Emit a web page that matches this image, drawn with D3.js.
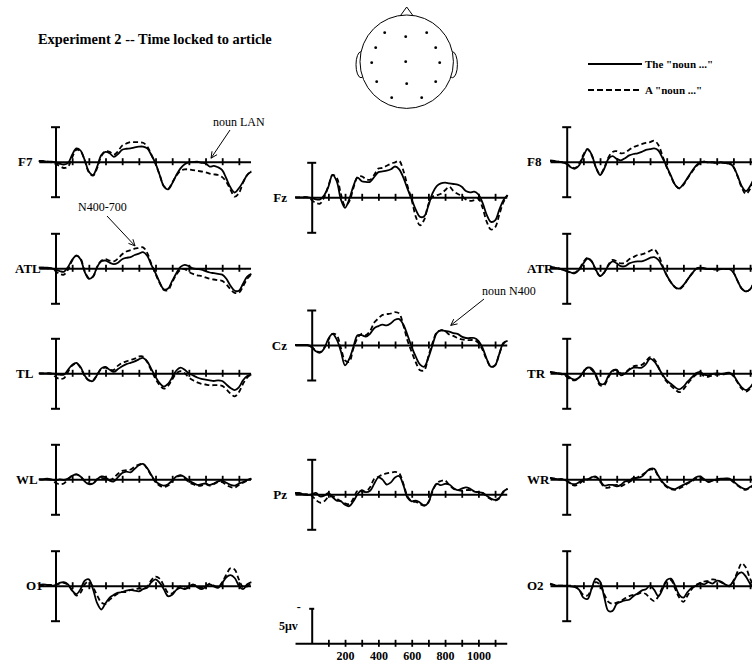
<!DOCTYPE html>
<html><head><meta charset="utf-8">
<script src="https://cdn.jsdelivr.net/npm/d3@7"></script>
<style>
body{margin:0;background:#fff}
svg{display:block}
text{font-family:"Liberation Serif","Times New Roman",serif;fill:#000}
</style>
</head><body>
<svg id="c" width="752" height="667"></svg>
<script>
// ---- time base (ms) ----
const times = [-100,-75,-50,-25,0,25,50,75,100,125,150,175,200,225,250,275,300,325,350,375,400,425,450,475,500,525,550,575,600,625,650,675,700,725,750,775,800,825,850,875,900,925,950,975,1000,1025,1050,1075,1100,1125,1150,1175];
const conditions = ['The "noun ..."', 'A "noun ..."'];
const tickTimes = [100,200,300,400,500,600,700,800,900,1000,1100];
const scaleTickLabels = [200,400,600,800,1000];
const scaleMicroV = 5;

// ---- ERP amplitudes (microvolts, negative plotted up) ----
const F7_the = [-0.1,-0.1,0,0,0.1,0.3,0.4,0.2,-1.0,-1.9,-1.6,-0.25,1.4,1.9,0.7,-0.95,-1.4,-1.2,-0.7,-1.1,-1.7,-1.85,-1.9,-2.05,-2.15,-2.15,-1.9,-0.95,0.25,1.9,3.5,3.95,3.1,1.9,0.95,0.35,0.1,0.05,0,0.15,0.25,0.7,0.6,0.8,1.2,2.4,3.7,4.4,3.8,2.9,1.9,1.4];
const F7_a   = [-0.1,0,0,0.1,0.3,0.6,0.9,0.7,-0.6,-1.7,-1.5,-0.2,1.5,2.0,0.9,-0.8,-1.5,-1.4,-1.0,-1.5,-2.3,-2.6,-2.8,-2.8,-2.8,-2.7,-2.2,-1.0,0.3,1.9,3.5,3.9,3.0,2.0,1.3,1.1,1.1,1.2,1.3,1.4,1.5,1.7,1.8,1.9,2.2,2.9,4.0,5.0,4.5,3.0,1.9,1.3];
const ATL_the = [-0.1,-0.1,-0.1,0,0.2,0.4,0.5,-0.2,-1.2,-1.8,-1.3,0.5,1.5,1.2,-0.2,-1.0,-1.1,-0.8,-0.6,-0.8,-1.3,-1.5,-1.6,-1.9,-2.1,-2.3,-1.8,-0.5,0.7,2.0,3.0,2.9,1.8,0.7,-0.2,-0.5,-0.3,0,0.1,0.2,0.4,0.6,0.7,0.8,0.9,1.5,2.5,3.2,3.2,2.2,1.2,0.8];
const ATL_a   = [-0.1,-0.1,0,0,0.4,0.8,0.9,0.2,-1.1,-1.8,-1.4,0.4,1.4,1.2,-0.2,-1.1,-1.3,-1.1,-1.0,-1.4,-2.0,-2.4,-2.6,-2.8,-2.9,-3.0,-2.2,-0.6,0.8,2.1,3.1,3.1,2.0,0.9,0.2,0.1,0.5,0.8,1.0,1.1,1.3,1.5,1.6,1.7,1.8,2.3,3.0,3.5,3.5,2.6,1.5,0.9];
const TL_the = [0,0,0,0,0.1,0.2,0.2,-0.5,-1.2,-1.5,-0.9,0.3,1.0,1.1,0.2,-0.7,-0.9,-0.5,-0.2,-0.6,-1.0,-1.3,-1.5,-1.7,-2.0,-2.2,-1.7,-0.6,0.5,1.4,1.9,1.5,0.6,-0.4,-0.8,-0.5,0,0.3,0.6,0.8,0.9,1.0,1.1,1.0,1.1,1.6,2.1,2.4,2.0,1.0,0.4,0.2];
const TL_a   = [0,0,0,0.1,0.5,0.8,0.7,-0.2,-1.1,-1.4,-0.8,0.4,1.0,1.0,0.2,-0.6,-0.8,-0.5,-0.5,-1.1,-1.5,-1.7,-1.9,-2.1,-2.4,-2.4,-1.6,-0.4,0.8,1.7,2.2,1.8,0.9,0,-0.3,0,0.6,1.0,1.3,1.5,1.6,1.7,1.7,1.7,1.8,2.3,2.9,3.3,2.7,1.5,0.6,0.2];
const WL_the = [0,0,-0.1,0,0.2,0,0.1,-0.1,-0.5,-0.7,-0.4,0.3,0.7,0.6,0,-0.4,-0.3,0.2,0.3,-0.3,-0.9,-1.1,-1.0,-1.5,-2.0,-2.2,-1.6,-0.6,0.3,0.7,0.9,0.7,0.2,-0.4,-0.6,-0.3,0.2,0.5,0.8,0.7,0.6,0.8,0.6,0.3,0.2,0.5,0.8,0.9,0.6,0.4,0.1,-0.1];
const WL_a   = [0,0,0,0.1,0.5,0.7,0.6,0,-0.5,-0.7,-0.4,0.2,0.6,0.6,0,-0.2,-0.1,0.1,-0.2,-0.8,-1.2,-1.3,-1.4,-1.8,-2.1,-2.2,-1.5,-0.5,0.4,0.9,1.1,0.9,0.3,-0.3,-0.5,-0.1,0.4,0.7,0.9,0.9,0.7,0.9,0.7,0.4,0.4,0.8,1.1,1.2,0.8,0.5,0.2,-0.1];
const O1_the = [-0.1,-0.2,-0.1,0,-0.1,-0.4,-0.5,-0.2,0.7,1.2,0.5,-0.7,-0.9,0.5,2.5,3.4,2.5,1.7,1.3,1.0,0.9,0.7,0.6,0.7,0.8,0.5,0.3,-0.5,-0.9,-0.4,0.5,1.5,1.3,0.6,0.3,0.5,0.1,-0.2,0.2,0.5,0.2,-0.2,0.1,0.3,-0.4,-1.2,-1.5,-1.1,0,0.5,-0.2,-0.5];
const O1_a   = [-0.1,-0.1,-0.1,-0.1,-0.1,-0.3,-0.4,-0.1,0.7,1.4,1.0,-0.2,-0.6,0.2,1.4,2.4,2.6,2.0,1.5,1.1,0.9,0.9,0.6,0.5,0.4,0.3,0.1,-0.8,-1.3,-1.0,0,1.0,1.1,0.5,0.1,0.4,0.3,-0.1,0,0.3,0.1,-0.3,0,0.2,-0.5,-1.6,-2.5,-2.3,-0.9,0.2,0.1,-0.5];
const Fz_the = [0,0,0,0,0.1,0.3,0.3,-0.3,-1.5,-3.2,-2.3,0.3,1.5,0.3,-1.6,-2.8,-2.3,-2.2,-2.2,-2.9,-3.6,-3.7,-3.8,-4.0,-4.4,-4.0,-2.8,-1.2,0.3,1.8,2.8,2.7,1.2,-0.6,-1.6,-2.0,-2.1,-2.0,-1.9,-1.8,-1.5,-0.9,-0.7,-0.8,-0.4,0.8,2.5,3.5,3.3,1.8,0.4,-0.3];
const Fz_a   = [0,0,0,0,0.4,0.8,0.9,0,-1.6,-3.2,-2.8,-0.5,1.2,0.6,-1.3,-2.9,-3.0,-2.6,-2.5,-3.2,-4.1,-4.2,-4.5,-4.8,-5.0,-5.2,-3.8,-1.6,0.4,2.8,4.0,3.2,1.0,-0.1,-0.3,-0.5,-1.0,-1.5,-0.9,-0.5,-0.2,0.3,0.5,0.4,0.2,1.5,3.5,4.6,4.3,2.5,0.7,-0.3];
const Cz_the = [0,0,0,0,0.3,0.9,1.1,0.5,-0.9,-1.6,-0.8,0.9,2.9,2.0,0.3,-1.4,-1.4,-1.2,-1.6,-2.4,-2.7,-2.9,-2.8,-3.1,-3.6,-3.7,-2.9,-1.4,0.3,1.7,2.8,3.1,1.8,0,-1.7,-2.1,-2.0,-1.9,-1.7,-1.6,-1.2,-1.0,-1.0,-1.0,-0.6,0.4,2.0,3.1,2.9,1.3,-0.3,-0.6];
const Cz_a   = [0,0,0,0,0.3,0.8,1.0,0.4,-0.7,-1.6,-1.4,0.4,2.2,2.4,0.5,-1.0,-1.6,-1.4,-2.0,-3.2,-3.8,-4.3,-4.4,-4.5,-4.7,-4.5,-2.8,-0.6,1.0,2.5,3.6,3.6,1.6,-0.3,-1.8,-2.1,-2.0,-1.5,-1.3,-1.0,-0.8,-0.7,-0.7,-0.7,-0.3,0.7,2.1,3.1,2.9,1.3,-0.2,-0.6];
const Pz_the = [-0.2,-0.2,0,0.1,0,-0.2,0.3,0.2,-0.2,0.4,0.9,1.0,1.5,1.7,1.0,0,-0.6,-0.3,-0.5,-1.5,-2.4,-2.1,-1.4,-1.7,-2.4,-2.6,-1.3,0.5,1.0,0.9,1.2,1.6,1.2,-0.6,-1.5,-1.3,-1.5,-1.4,-0.9,-0.6,-0.8,-1.0,-0.8,-0.4,-0.3,-0.2,0.2,0.6,0.8,0.5,-0.4,-0.8];
const Pz_a   = [-0.1,-0.1,0,0,0.2,0.8,1.2,1.0,0.4,0.3,0.6,1.0,1.3,1.4,0.6,-0.5,-0.4,-0.4,-1.0,-2.2,-2.5,-2.8,-3.0,-3.1,-3.2,-3.0,-1.5,0.3,1.0,1.1,1.4,1.6,1.1,-0.4,-1.6,-1.9,-2.0,-1.3,-0.8,-0.6,-0.5,-0.6,-0.6,-0.4,-0.3,-0.2,0.3,0.7,0.9,0.6,-0.3,-0.8];
const F8_the = [-0.2,-0.1,0,0.1,0.3,0.8,1.0,0.5,-0.8,-1.8,-1.0,0.8,1.9,1.0,-0.4,-0.8,-0.4,-0.2,-0.5,-0.9,-1.1,-1.2,-1.4,-1.7,-1.8,-1.9,-1.6,-0.5,0.7,2.0,3.3,3.8,3.2,2.3,1.4,0.6,0.1,0,0.1,0.1,0.2,0.1,0.2,0.2,0.7,2.0,3.5,4.2,3.5,2.3,1.0,0.3];
const F8_a   = [-0.1,-0.1,0,0.1,0.3,0.7,0.9,0.3,-1.0,-1.8,-0.9,0.8,1.8,0.9,-0.6,-1.4,-1.5,-1.2,-1.3,-1.7,-2.1,-2.3,-2.5,-2.7,-2.8,-3.0,-2.4,-0.8,0.8,2.1,3.3,3.8,3.3,2.4,1.5,0.7,0.2,0,0.1,0.1,0.2,0.1,0.2,0.3,0.8,2.1,3.7,4.6,3.9,2.5,1.1,0.3];
const ATR_the = [-0.2,-0.1,0,0.2,0.4,0.6,0.7,0.2,-0.7,-1.4,-1.0,0.2,1.1,0.6,-0.4,-1.0,-0.7,-0.3,-0.3,-0.7,-0.9,-1.0,-1.0,-1.2,-1.5,-1.6,-1.2,-0.2,1.0,2.0,2.7,2.9,2.4,1.6,0.8,0.1,-0.1,0,0.1,0.1,0.2,0.1,0.1,0.1,0.6,1.8,2.9,3.3,3.0,2.0,1.0,0.3];
const ATR_a   = [-0.2,-0.1,0,0.2,0.4,0.6,0.6,0.1,-0.9,-1.5,-1.0,0.3,1.1,0.6,-0.5,-1.2,-1.0,-0.7,-0.8,-1.3,-1.6,-1.9,-2.0,-2.2,-2.5,-2.7,-1.9,-0.4,1.0,2.0,2.7,3.0,2.5,1.6,0.8,0.1,-0.1,0,0.1,0.1,0.2,0.1,0.1,0.1,0.6,1.8,2.9,3.3,3.0,2.0,1.0,0.3];
const TR_the = [-0.2,-0.1,0,0.1,0.3,0.7,0.9,0.6,-0.2,-0.8,-0.7,0.2,1.5,1.5,0.4,-0.4,-0.5,0.3,0,-0.5,-0.8,-0.8,-0.8,-1.3,-2.1,-1.7,-0.8,0.2,1.0,1.5,2.0,2.3,1.9,1.2,0.6,0,-0.2,0.2,0.3,0.1,0,0.1,0,-0.1,0.3,1.2,2.0,2.4,2.0,1.2,0.5,0.2];
const TR_a   = [-0.2,-0.1,0,0.2,0.5,0.9,1.0,0.6,-0.2,-0.8,-0.5,0.4,1.7,1.7,0.6,-0.3,-0.5,0,-0.1,-0.6,-1.0,-1.1,-1.2,-1.7,-2.3,-2.0,-0.9,0.3,1.2,1.8,2.3,2.7,2.3,1.5,0.8,0.2,0,0.4,0.5,0.3,0.2,0.2,0.1,0,0.4,1.3,2.2,2.6,2.2,1.3,0.6,0.2];
const WR_the = [-0.2,-0.1,0,0,0.2,0.6,0.7,0.4,0,0,-0.3,-0.4,0.2,0.9,0.8,0.8,1.0,0.8,0.3,0.2,-0.2,-0.2,-0.4,-1.0,-1.5,-1.5,-0.5,0.4,1.0,1.3,1.4,1.1,0.8,0.5,0.2,-0.3,-0.4,0,0.4,0.2,0,-0.1,-0.1,-0.1,0.3,0.8,1.2,1.4,1.1,0.7,0.3,0];
const WR_a   = [-0.2,-0.1,0,0,0.2,0.7,0.9,0.6,0.2,0,-0.1,-0.3,0.3,1.1,1.2,0.9,0.8,1.0,0.7,0.4,0,-0.3,-0.6,-1.0,-1.4,-1.3,-0.4,0.5,1.1,1.4,1.5,1.3,1.0,0.6,0.3,-0.1,-0.2,0.1,0.3,0.2,0.1,0,-0.1,0,0.4,0.9,1.3,1.5,1.2,0.8,0.3,0];
const O2_the = [-0.3,-0.1,0,0,0,0.1,0.2,0.6,1.7,1.9,0.4,-1.0,-0.6,1.6,3.6,3.6,2.6,2.3,2.1,2.0,1.5,1.1,0.7,0.5,0,0.6,1.5,0.5,-0.8,-1.0,0,1.3,1.7,0.9,0.3,0,-0.3,-0.2,-0.5,-0.3,-0.7,-0.6,-0.2,0,-0.6,-1.6,-1.9,-1.3,-0.3,0.3,0,-0.3];
const O2_a   = [-0.2,-0.1,0,0,0,0,0.1,0.6,1.3,1.4,0.4,-0.5,-0.1,1.2,2.3,2.6,2.4,2.2,1.8,1.5,1.3,1.2,1.0,1.2,1.8,2.2,1.5,0.2,-0.6,-0.8,0.4,1.7,2.3,1.4,0.5,-0.1,-0.4,-0.6,-0.7,-0.9,-0.8,-0.5,-0.2,0.1,-0.7,-2.0,-3.2,-2.6,-1.0,0,0.2,-0.3];

const channelData = {
  F7:[F7_the,F7_a], ATL:[ATL_the,ATL_a], TL:[TL_the,TL_a], WL:[WL_the,WL_a], O1:[O1_the,O1_a],
  Fz:[Fz_the,Fz_a], Cz:[Cz_the,Cz_a], Pz:[Pz_the,Pz_a],
  F8:[F8_the,F8_a], ATR:[ATR_the,ATR_a], TR:[TR_the,TR_a], WR:[WR_the,WR_a], O2:[O2_the,O2_a]
};

// ---- layout (positions only) ----
const colX = {L:55.5, C:311.7, R:566.7};
const rowsLR = [161.7, 268.3, 373.3, 479.3, 585.7];
const rowsC = [197.3, 345, 494.3];
const scaleBaseY = 643.3;
const layout = [
  {ch:"F7", x0:colX.L, y0:rowsLR[0], lx:18, anchor:"start"},
  {ch:"ATL",x0:colX.L, y0:rowsLR[1], lx:15, anchor:"start"},
  {ch:"TL", x0:colX.L, y0:rowsLR[2], lx:16, anchor:"start"},
  {ch:"WL", x0:colX.L, y0:rowsLR[3], lx:16, anchor:"start"},
  {ch:"O1", x0:colX.L, y0:rowsLR[4], lx:26, anchor:"start"},
  {ch:"Fz", x0:colX.C, y0:rowsC[0], lx:287, anchor:"end"},
  {ch:"Cz", x0:colX.C, y0:rowsC[1], lx:287, anchor:"end"},
  {ch:"Pz", x0:colX.C, y0:rowsC[2], lx:287, anchor:"end"},
  {ch:"F8", x0:colX.R, y0:rowsLR[0], lx:527, anchor:"start"},
  {ch:"ATR",x0:colX.R, y0:rowsLR[1], lx:527, anchor:"start"},
  {ch:"TR", x0:colX.R, y0:rowsLR[2], lx:527, anchor:"start"},
  {ch:"WR", x0:colX.R, y0:rowsLR[3], lx:527, anchor:"start"},
  {ch:"O2", x0:colX.R, y0:rowsLR[4], lx:527, anchor:"start"}
];
const PX_PER_MS = 166.7/1000, PX_PER_UV = 7;

const svg = d3.select("#c");
svg.append("rect").attr("width",752).attr("height",667).attr("fill","#fff");

function makeScales(x0,y0){
  const x = d3.scaleLinear().domain([-100,1170]).range([x0-100*PX_PER_MS, x0+1170*PX_PER_MS]);
  const y = d3.scaleLinear().domain([-5,5]).range([y0-5*PX_PER_UV, y0+5*PX_PER_UV]);
  return {x,y};
}
function drawAxes(g,x,y,y0,withBar){
  const ax = g.append("g").attr("transform",`translate(0,${y0})`)
    .call(d3.axisBottom(x).tickValues(tickTimes).tickFormat("").tickSizeOuter(0));
  ax.select(".domain").attr("stroke","#000").attr("stroke-width",2);
  ax.selectAll(".tick line").attr("y1",-3.5).attr("y2",3.5).attr("stroke","#000").attr("stroke-width",1.8);
  if(withBar){
    const yax = g.append("g").attr("transform",`translate(${x(0)},0)`)
      .call(d3.axisLeft(y).tickValues([-5,5]).tickFormat("").tickSizeOuter(0));
    yax.select(".domain").attr("stroke","#000").attr("stroke-width",2);
    yax.selectAll(".tick line").attr("x1",-4.5).attr("x2",4.5).attr("stroke","#000").attr("stroke-width",2);
  }
}

const line = (x,y)=>d3.line().x(d=>x(d.t)).y(d=>y(d.v)).curve(d3.curveCatmullRom.alpha(0.5));

layout.forEach(p=>{
  const g = svg.append("g");
  const {x,y} = makeScales(p.x0,p.y0);
  drawAxes(g,x,y,p.y0,true);
  const [sThe, sA] = channelData[p.ch];
  const lg = line(x,y);
  g.append("path").datum(times.map((t,i)=>({t,v:sA[i]})))
    .attr("d",lg).attr("fill","none").attr("stroke","#000").attr("stroke-width",1.8).attr("stroke-dasharray","5,3");
  g.append("path").datum(times.map((t,i)=>({t,v:sThe[i]})))
    .attr("d",lg).attr("fill","none").attr("stroke","#000").attr("stroke-width",1.8);
  g.append("text").attr("x",p.lx).attr("y",p.y0+4.5).attr("text-anchor",p.anchor)
    .attr("font-size",13).attr("font-weight","bold").text(p.ch);
});

// ---- calibration panel ----
{
  const g = svg.append("g");
  const {x,y} = makeScales(colX.C, scaleBaseY);
  const ax = g.append("g").attr("transform",`translate(0,${scaleBaseY})`)
    .call(d3.axisBottom(x).tickValues(tickTimes).tickFormat(d=>scaleTickLabels.includes(d)?d:"").tickSizeOuter(0));
  ax.select(".domain").attr("stroke","#000").attr("stroke-width",2);
  ax.selectAll(".tick line").attr("y1",-3.5).attr("y2",3.5).attr("stroke","#000").attr("stroke-width",1.8);
  ax.selectAll(".tick text").attr("y",8).attr("font-family","Liberation Serif, serif")
    .attr("font-size",12).attr("font-weight","bold").attr("fill","#000");
  const yb = d3.scaleLinear().domain([0,-scaleMicroV]).range([scaleBaseY, scaleBaseY-scaleMicroV*PX_PER_UV]);
  const yax = g.append("g").attr("transform",`translate(${x(0)},0)`)
    .call(d3.axisLeft(yb).tickValues([-scaleMicroV]).tickFormat("").tickSizeOuter(0));
  yax.select(".domain").attr("stroke","#000").attr("stroke-width",2);
  yax.selectAll(".tick line").attr("x1",-2.5).attr("x2",2.5).attr("stroke","#000").attr("stroke-width",2);
  g.append("text").attr("x",x(0)-13).attr("y",yb(-scaleMicroV)+3).attr("text-anchor","middle")
    .attr("font-size",12).attr("font-weight","bold").text("-");
  g.append("text").attr("x",x(0)-14).attr("y",yb(-scaleMicroV/2)+4.5).attr("text-anchor","end")
    .attr("font-size",12).attr("font-weight","bold").text(scaleMicroV+"\u03BCv");
}

// ---- title ----
svg.append("text").attr("x",38).attr("y",44).attr("font-size",14.4).attr("font-weight","bold")
  .text("Experiment 2 -- Time locked to article");

// ---- head diagram ----
{
  const hx=406.7, hy=61.7, r=46.7;
  const h = svg.append("g").attr("stroke","#000").attr("stroke-width",1);
  h.append("path").attr("d",`M${hx-8},${hy-r+3} L${hx},${hy-r-8} L${hx+8},${hy-r+3}`).attr("fill","#fff");
  h.append("ellipse").attr("cx",hx-r+1).attr("cy",hy+3).attr("rx",5).attr("ry",13).attr("fill","#fff");
  h.append("ellipse").attr("cx",hx+r-1).attr("cy",hy+3).attr("rx",5).attr("ry",13).attr("fill","#fff");
  h.append("circle").attr("cx",hx).attr("cy",hy).attr("r",r).attr("fill","#fff");
  const electrodes = [[-22,-29],[-1,-25],[20,-29],[-31,-14],[29,-14],[-35,1],[-1,0],[33,1],[-30,20],[0,22],[29,20],[-15,36],[15,36]];
  h.selectAll("circle.e").data(electrodes).enter().append("circle").attr("class","e")
    .attr("cx",d=>hx+d[0]).attr("cy",d=>hy+d[1]).attr("r",1.4).attr("fill","#000").attr("stroke","none");
}

// ---- legend ----
{
  const lg = svg.append("g");
  [[64,null],[90,"6,3"]].forEach(([yy,dash],i)=>{
    lg.append("line").attr("x1",588).attr("x2",642).attr("y1",yy).attr("y2",yy)
      .attr("stroke","#000").attr("stroke-width",2).attr("stroke-dasharray",dash);
    lg.append("text").attr("x",645).attr("y",yy+4).attr("font-size",11).attr("font-weight","bold").text(conditions[i]);
  });
}

// ---- annotations ----
const annotations = [
  {ch:"F7", t:933, v:-0.5, text:"noun LAN", tx:213, ty:126, sx:230, sy:130},
  {ch:"ATL", t:477, v:-3.2, text:"N400-700", tx:78, ty:211, sx:107, sy:216},
  {ch:"Cz", t:834, v:-2.8, text:"noun N400", tx:482, ty:295, sx:484, sy:299}
];
annotations.forEach(a=>{
  const p = layout.find(l=>l.ch===a.ch);
  const {x,y} = makeScales(p.x0,p.y0);
  const ex = x(a.t), ey = y(a.v);
  svg.append("text").attr("x",a.tx).attr("y",a.ty).attr("font-size",12).text(a.text);
  svg.append("line").attr("x1",a.sx).attr("y1",a.sy).attr("x2",ex).attr("y2",ey).attr("stroke","#000").attr("stroke-width",1);
  const ang = Math.atan2(ey-a.sy, ex-a.sx);
  [-0.45,0.45].forEach(da=>{
    svg.append("line").attr("x1",ex).attr("y1",ey)
      .attr("x2",ex-7*Math.cos(ang+da)).attr("y2",ey-7*Math.sin(ang+da))
      .attr("stroke","#000").attr("stroke-width",1);
  });
});
</script>
</body></html>
